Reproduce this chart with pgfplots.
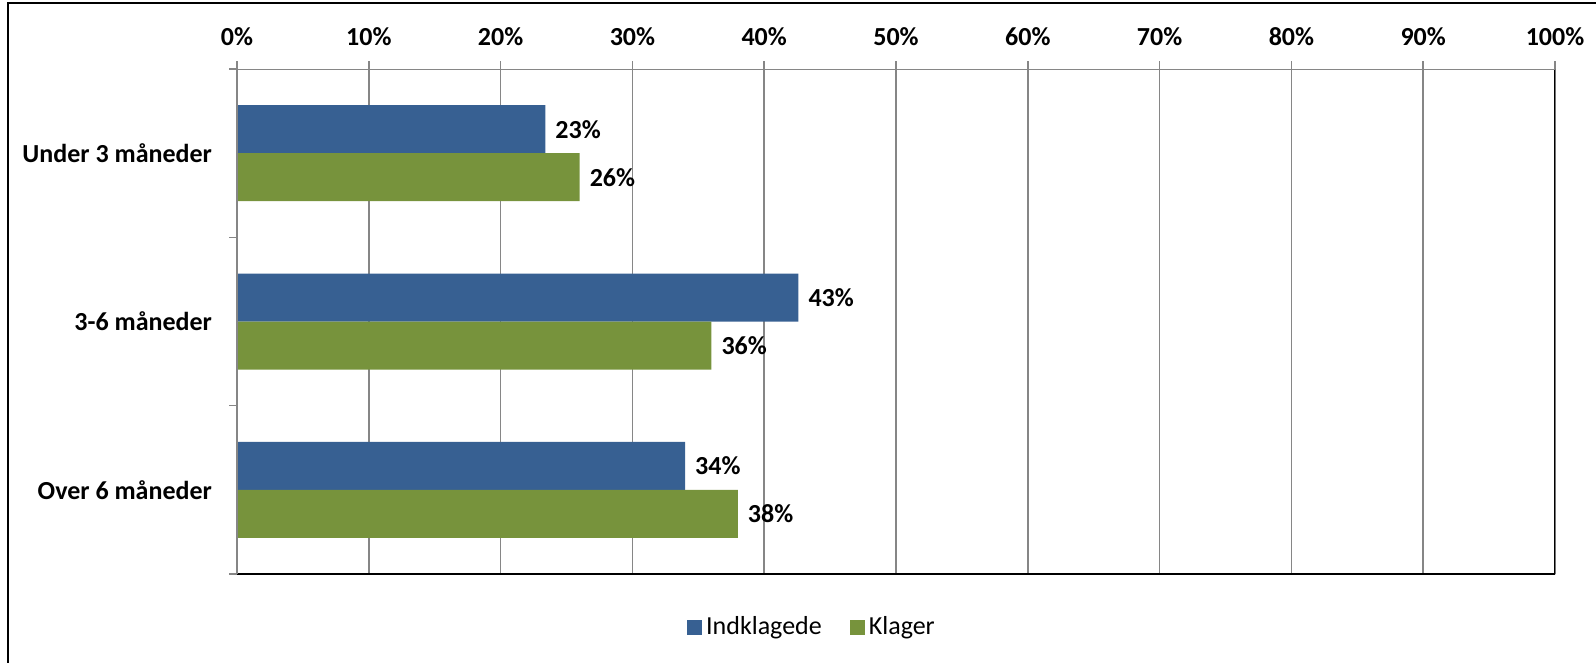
\documentclass[border=0pt]{standalone}
\usepackage{fontspec}
\setmainfont{Carlito}
\usepackage{pgfplots}
\pgfplotsset{compat=1.18}
\definecolor{indkl}{RGB}{55,96,146}
\definecolor{klager}{RGB}{119,147,60}
\definecolor{gridgray}{RGB}{134,134,134}
\begin{document}
\begin{tikzpicture}
\useasboundingbox (0,0) rectangle (798pt,-331.5pt);
\draw[line width=0.9pt] (4pt,-1.5pt) rectangle (810pt,-340pt);
\begin{axis}[
    at={(118.5pt,-287pt)}, anchor=south west,
    width=659pt, height=252.5pt, scale only axis,
    xbar, bar width=24pt,
    xmin=0, xmax=100, ymin=-0.5, ymax=2.5,
    /pgf/number format/assume math mode=true,
    font=\fontsize{13}{15.6}\selectfont,
    xtick={0,10,...,100},
    xticklabel pos=upper, xtick pos=upper, ytick pos=left,
    xticklabel={\pgfmathprintnumber{\tick}\%},
    xticklabel style={font=\fontsize{13}{15.6}\selectfont\bfseries, yshift=4pt},
    ytick={0,1,2},
    yticklabels={Over 6 måneder, 3-6 måneder, Under 3 måneder},
    yticklabel style={font=\fontsize{13}{15.6}\selectfont\bfseries, anchor=east, xshift=-5pt},
    minor ytick={-0.5,0.5,1.5,2.5},
    tick align=outside,
    major tick length=4pt, minor tick length=4pt,
    major x tick style={gridgray, line width=0.8pt},
    major y tick style={draw=none},
    minor y tick style={gridgray, line width=0.8pt},
    xmajorgrids, major grid style={gridgray, line width=0.8pt},
    axis line style={draw=none},
    nodes near coords={\pgfmathprintnumber[fixed,precision=0]{\pgfplotspointmeta}\%},
    nodes near coords style={font=\fontsize{13}{15.6}\selectfont\bfseries, anchor=west, black, xshift=1.5pt},
    legend columns=2,
    legend style={at={(0.437,-0.105)}, anchor=center, draw=none, fill=none,
        font=\fontsize{13}{15.6}\selectfont,
        /tikz/every even column/.append style={column sep=12pt}},
    legend image code/.code={\fill[#1] (-3pt,-3.75pt) rectangle (4.5pt,3.75pt);},
]
\addplot[fill=indkl, draw=none, bar shift=12pt] coordinates {
    (34,0) (42.6,1) (23.4,2)
};
\addplot[fill=klager, draw=none, bar shift=-12pt] coordinates {
    (38,0) (36,1) (26,2)
};
\legend{Indklagede, Klager}
\draw[black, line width=0.9pt] (rel axis cs:0,0) -- (rel axis cs:1,0) -- (rel axis cs:1,1);
\draw[gridgray, line width=0.8pt] (rel axis cs:0,0) -- (rel axis cs:0,1) -- (rel axis cs:1,1);
\end{axis}
\end{tikzpicture}
\end{document}
